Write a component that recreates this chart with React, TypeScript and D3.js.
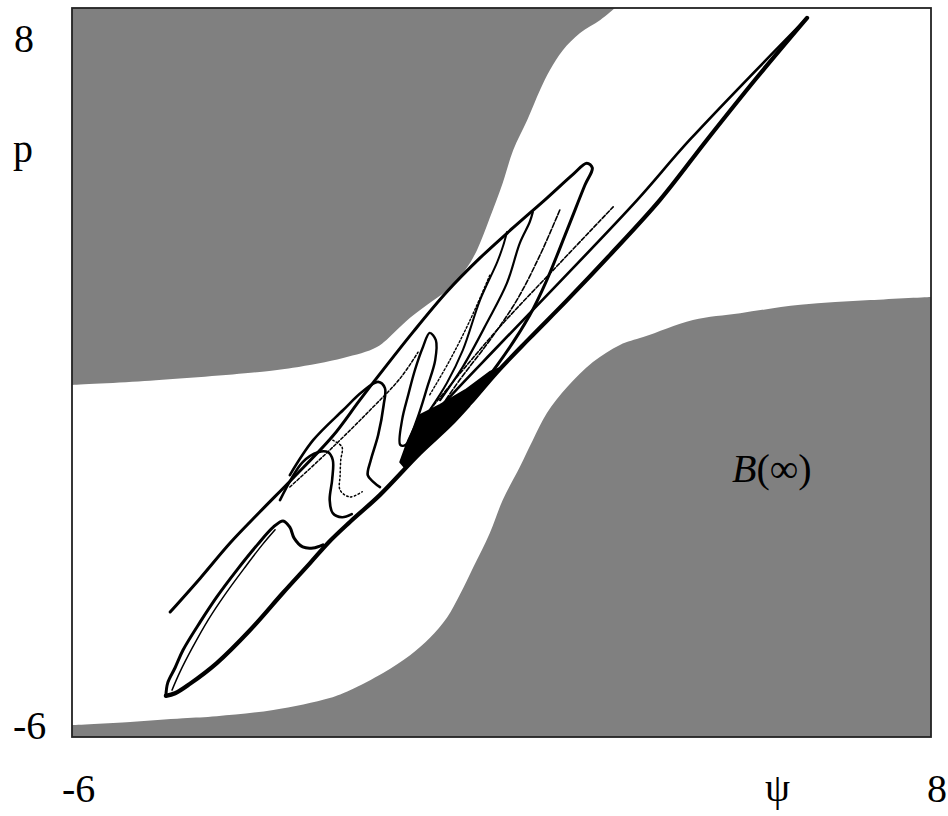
import React, { useEffect, useRef } from "react";
import * as d3 from "d3";

type Pt = [number, number];

// Axis ranges (ψ horizontal, p vertical)
const psiDomain: Pt = [-6, 8];
const pDomain: Pt = [-6, 8];
const axisLabelsY = ["8", "p", "-6"];
const axisLabelsX = ["-6", "ψ", "8"];

// Edge of the escaping basin, upper-left part (from left wall to top wall)
const basinUpper: Pt[] = [
  [-6, 0.76], [-4.73, 0.84], [-2.94, 1.01], [-2.4, 1.09], [-1.58, 1.28], [-1.03, 1.49],
  [-0.74, 1.78], [-0.49, 2.05], [-0.21, 2.3], [0.11, 2.58], [0.41, 2.97], [0.6, 3.35],
  [0.81, 3.97], [1.02, 4.64], [1.19, 5.27], [1.42, 5.85], [1.63, 6.43], [1.79, 6.81],
  [2.0, 7.19], [2.28, 7.52], [2.61, 7.77], [2.85, 8.0],
];

// Edge of the escaping basin, lower-right part (from left wall to right wall)
const basinLower: Pt[] = [
  [-6, -5.77], [-5.05, -5.71], [-4.19, -5.64], [-3.64, -5.6], [-2.72, -5.48], [-1.8, -5.25],
  [-1.47, -5.1], [-0.93, -4.77], [-0.49, -4.43], [-0.17, -4.1], [0.11, -3.71], [0.32, -3.27],
  [0.54, -2.74], [0.81, -2.08], [1.02, -1.45], [1.3, -0.81], [1.51, -0.3], [1.74, 0.22],
  [2.07, 0.72], [2.49, 1.2], [2.93, 1.53], [3.31, 1.68], [4.12, 2.01], [4.89, 2.14],
  [5.87, 2.3], [7.01, 2.39], [8.0, 2.45],
];

// Attractor branches
const mainEdge: Pt[] = [
  [5.98, 7.81], [5.16, 6.66], [4.35, 5.47], [3.58, 4.31], [2.77, 3.26], [2.07, 2.39],
  [1.46, 1.66], [0.93, 1.01], [0.49, 0.41], [0.16, -0.01], [-0.33, -0.55], [-0.98, -1.35],
  [-1.47, -1.87], [-1.8, -2.24], [-2.12, -2.66], [-2.56, -3.23], [-3.1, -3.95], [-3.64, -4.58],
  [-4.08, -4.98], [-4.32, -5.16], [-4.47, -5.21],
];

const secondEdge: Pt[] = [
  [5.98, 7.81], [4.07, 5.47], [3.21, 4.31], [1.95, 2.74], [0.93, 1.49], [0.11, 0.47], [-0.33, -0.14],
];

const upperFold: Pt[] = [
  [-4.4, -3.6], [-3.91, -2.95], [-3.42, -2.27], [-2.94, -1.68], [-2.4, -1.03], [-1.75, -0.22],
  [-1.31, 0.47], [-0.93, 1.05], [-0.44, 1.78], [0.11, 2.55], [0.65, 3.2], [1.19, 3.78],
  [1.74, 4.35], [2.17, 4.81], [2.39, 5.02], [2.48, 4.93], [2.36, 4.6], [2.07, 3.74],
  [1.74, 2.78], [1.46, 2.1], [0.93, 1.14], [0.37, 0.32], [-0.17, -0.35],
];

const outerLoop: Pt[] = [
  [-4.47, -5.21], [-4.44, -4.96], [-4.32, -4.67], [-4.19, -4.33], [-3.91, -3.79], [-3.64, -3.31],
  [-3.31, -2.79], [-2.98, -2.31], [-2.72, -1.97], [-2.56, -1.85], [-2.45, -1.97], [-2.38, -2.18],
  [-2.24, -2.35], [-2.07, -2.37], [-1.91, -2.31],
];

const innerLoop: Pt[] = [
  [-4.37, -5.1], [-4.24, -4.75], [-4.04, -4.29], [-3.78, -3.75], [-3.51, -3.27], [-3.18, -2.74],
  [-2.9, -2.31], [-2.69, -2.02],
];

const leftZ: Pt[] = [
  [-2.61, -1.45], [-2.24, -0.72], [-1.99, -0.53], [-1.83, -0.53], [-1.75, -0.68], [-1.76, -1.06],
  [-1.8, -1.45], [-1.75, -1.7], [-1.6, -1.78], [-1.44, -1.72],
];

const upperZ: Pt[] = [
  [-2.45, -0.97], [-2.07, -0.3], [-1.58, 0.28], [-1.27, 0.63], [-1.01, 0.82], [-0.9, 0.7],
  [-0.92, 0.38], [-1.01, -0.2], [-1.13, -0.68], [-1.18, -0.97], [-1.09, -1.1], [-0.98, -1.2],
];

const dottedZ: Pt[] = [
  [-1.75, -0.3], [-1.6, -0.43], [-1.62, -0.68], [-1.63, -0.97], [-1.63, -1.26], [-1.47, -1.39],
  [-1.27, -1.29],
];

const narrowLoop: Pt[] = [
  [-0.28, 1.49], [-0.17, 1.76], [-0.07, 1.62], [-0.08, 1.24], [-0.21, 0.72], [-0.38, 0.09],
  [-0.56, -0.39], [-0.65, -0.39], [-0.62, 0.09], [-0.52, 0.57], [-0.41, 1.05],
];

const foldA: Pt[] = [
  [1.09, 3.7], [1.02, 3.41], [0.93, 3.12], [0.65, 2.39], [0.37, 1.43], [0.11, 0.8], [-0.17, 0.28],
];

const foldB: Pt[] = [
  [1.51, 4.08], [1.46, 3.89], [1.3, 3.49], [1.09, 2.72], [0.76, 1.95], [0.37, 1.11], [0.0, 0.47],
];

const strandA: Pt[] = [[2.82, 4.18], [1.95, 3.1], [0.93, 1.82], [-0.17, 0.28]];
const strandB: Pt[] = [[1.95, 4.12], [1.63, 3.26], [1.25, 2.39], [0.81, 1.62], [0.32, 0.86], [-0.08, 0.18]];
const strandC: Pt[] = [[0.81, 2.87], [0.49, 2.01], [0.16, 1.24], [-0.17, 0.57]];
const strandD: Pt[] = [[-2.45, -1.2], [-1.8, -0.49], [-1.14, 0.28], [-0.65, 0.89], [-0.36, 1.39]];

const denseWedge: Pt[] = [
  [-0.57, -0.83], [-0.33, -0.55], [0.16, -0.01], [0.65, 0.61], [0.98, 1.09], [0.81, 1.01],
  [0.41, 0.66], [0.0, 0.38], [-0.33, 0.18], [-0.52, -0.3], [-0.65, -0.72],
];

const W = 948;
const H = 816;
const plot = { left: 72, right: 931, top: 8, bottom: 737 };
const serif = "'Liberation Serif', 'Times New Roman', 'DejaVu Serif', serif";

export default function App() {
  const ref = useRef<SVGSVGElement | null>(null);

  useEffect(() => {
    const svg = d3.select(ref.current);
    svg.selectAll("*").remove();

    const x = d3.scaleLinear().domain(psiDomain).range([plot.left, plot.right]);
    const y = d3.scaleLinear().domain(pDomain).range([plot.bottom, plot.top]);

    const poly = d3.line<Pt>().x((d) => x(d[0])).y((d) => y(d[1]));
    const smooth = d3
      .line<Pt>()
      .x((d) => x(d[0]))
      .y((d) => y(d[1]))
      .curve(d3.curveCatmullRom.alpha(0.5));
    const smoothClosed = d3
      .line<Pt>()
      .x((d) => x(d[0]))
      .y((d) => y(d[1]))
      .curve(d3.curveCatmullRomClosed.alpha(0.5));
    const corner = (pts: Pt[]) => pts.map((d) => `L${x(d[0])},${y(d[1])}`).join("") + "Z";

    svg.append("rect").attr("width", W).attr("height", H).attr("fill", "#ffffff");

    const basin = svg.append("g").attr("fill", "#808080").attr("stroke", "none");
    basin
      .append("path")
      .attr("d", smooth(basinUpper) + corner([[psiDomain[0], pDomain[1]]]));
    basin
      .append("path")
      .attr(
        "d",
        smooth(basinLower) + corner([[psiDomain[1], pDomain[0]], [psiDomain[0], pDomain[0]]])
      );

    const att = svg
      .append("g")
      .attr("fill", "none")
      .attr("stroke", "#000")
      .attr("stroke-linejoin", "round")
      .attr("stroke-linecap", "round");

    att.append("path").attr("d", poly(denseWedge) + "Z").attr("fill", "#000").attr("stroke-width", 2);

    const branches: [Pt[], number, string | null][] = [
      [mainEdge, 4.2, null],
      [secondEdge, 2.6, null],
      [upperFold, 3, null],
      [outerLoop, 3, null],
      [innerLoop, 1.5, null],
      [leftZ, 2.6, null],
      [upperZ, 2.6, null],
      [foldA, 2, null],
      [foldB, 2.2, null],
      [strandA, 1.6, "4 2"],
      [strandB, 1.6, "5 2"],
      [strandC, 1.4, "2 2"],
      [strandD, 1.5, "3 2"],
      [dottedZ, 1.5, "1.5 2.5"],
    ];
    branches.forEach(([pts, w, dash]) => {
      const p = att.append("path").attr("d", smooth(pts)).attr("stroke-width", w);
      if (dash) p.attr("stroke-dasharray", dash);
    });
    att.append("path").attr("d", smoothClosed(narrowLoop)).attr("stroke-width", 2.4);

    svg
      .append("rect")
      .attr("x", plot.left)
      .attr("y", plot.top)
      .attr("width", plot.right - plot.left)
      .attr("height", plot.bottom - plot.top)
      .attr("fill", "none")
      .attr("stroke", "#222")
      .attr("stroke-width", 1.8);

    const labels = svg.append("g").attr("font-family", serif).attr("font-size", 40).attr("fill", "#000");
    labels.append("text").attr("x", 14).attr("y", 52).text(axisLabelsY[0]);
    labels.append("text").attr("x", 13).attr("y", 162).text(axisLabelsY[1]);
    labels.append("text").attr("x", 13).attr("y", 739).text(axisLabelsY[2]);
    labels.append("text").attr("x", 62).attr("y", 802).text(axisLabelsX[0]);
    labels.append("text").attr("x", 765).attr("y", 801).text(axisLabelsX[1]);
    labels.append("text").attr("x", 927).attr("y", 802).text(axisLabelsX[2]);

    const b = labels.append("text").attr("x", 732).attr("y", 482);
    b.append("tspan").attr("font-style", "italic").text("B");
    b.append("tspan").text("(∞)");
  }, []);

  return (
    <svg
      ref={ref}
      width={W}
      height={H}
      style={{ position: "absolute", left: 0, top: 0, display: "block" }}
    />
  );
}
